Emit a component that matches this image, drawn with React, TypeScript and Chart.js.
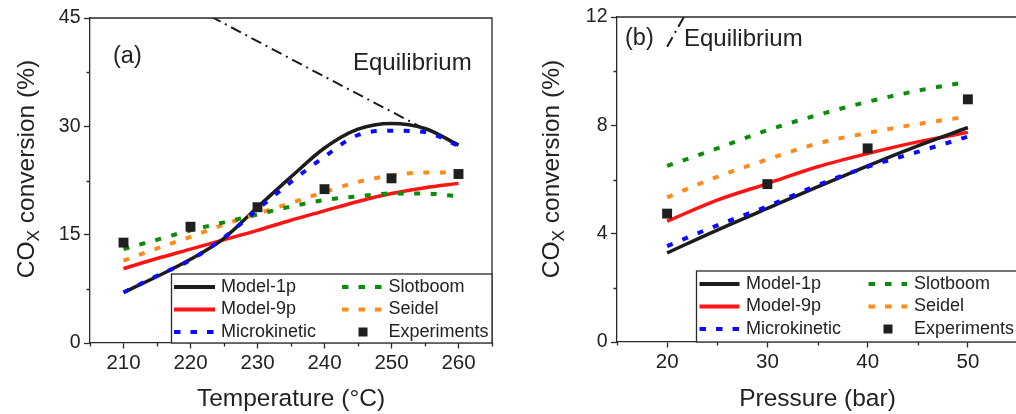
import React, { useEffect, useRef } from 'react';
import { Chart, registerables } from 'chart.js';

Chart.register(...registerables);

const FONT = '"Liberation Sans", Arial, Helvetica, sans-serif';
const INK = '#222222';
const AXIS = '#2a2a2a';

// ---- Panel (a): COx conversion against temperature ----
const tempGrid = [210, 215, 220, 225, 230, 235, 240, 245, 250, 255, 260];
const tempModel1p = [7.0, 9.2, 11.6, 14.5, 18.8, 23.0, 27.0, 29.6, 30.4, 29.7, 27.4];
const tempModel9p = [10.3, 11.7, 13.0, 14.3, 15.6, 17.0, 18.3, 19.6, 20.7, 21.5, 22.1];
const tempMicrokinetic = [7.0, 9.3, 11.5, 14.6, 18.5, 22.3, 25.8, 28.8, 29.4, 29.2, 27.3];
const tempSlotboom = [13.0, 14.3, 15.6, 16.7, 17.8, 18.9, 19.8, 20.3, 20.7, 20.7, 20.3];
const tempSeidel = [11.4, 13.1, 14.7, 16.4, 17.9, 19.4, 20.9, 22.3, 23.2, 23.6, 23.6];
const tempExpPoints = [210, 220, 230, 240, 250, 260];
const tempExperiments = [13.9, 16.1, 18.8, 21.3, 22.8, 23.4];
const tempEqPoints = [220, 237.5, 255];
const tempEquilibrium = [46.7, 38.1, 29.6];
const tempTicks = [210, 220, 230, 240, 250, 260];
const tempMinorTicks = [205, 215, 225, 235, 245, 255, 265];
const convTicksA = [0, 15, 30, 45];
const convMinorA = [7.5, 22.5, 37.5];

// ---- Panel (b): COx conversion against pressure ----
const pressGrid = [20, 25, 30, 35, 40, 45, 50];
const pressModel1p = [3.29, 4.13, 4.93, 5.73, 6.5, 7.24, 7.92];
const pressModel9p = [4.46, 5.24, 5.85, 6.47, 6.96, 7.39, 7.74];
const pressMicrokinetic = [3.54, 4.31, 5.01, 5.79, 6.47, 7.02, 7.58];
const pressSlotboom = [6.5, 7.15, 7.82, 8.38, 8.87, 9.28, 9.61];
const pressSeidel = [5.34, 6.1, 6.74, 7.33, 7.72, 8.05, 8.32];
const pressExpPoints = [20, 30, 40, 50];
const pressExperiments = [4.74, 5.83, 7.15, 8.96];
const pressEqPoints = [20, 25];
const pressEquilibrium = [10.9, 14.2];
const pressTicks = [20, 30, 40, 50];
const pressMinorTicks = [15, 25, 35, 45, 55];
const convTicksB = [0, 4, 8, 12];
const convMinorB = [2, 6, 10];

type Style = { label: string; color: string; dash: number[]; width: number };

const STYLE: Record<string, Style> = {
  m1: { label: 'Model-1p', color: '#1c1c1c', dash: [], width: 3.5 },
  m9: { label: 'Model-9p', color: '#ff1414', dash: [], width: 3.5 },
  mk: { label: 'Microkinetic', color: '#0a0aff', dash: [6, 10.5], width: 4 },
  sb: { label: 'Slotboom', color: '#0c8c0c', dash: [6, 10.5], width: 4 },
  sd: { label: 'Seidel', color: '#ff8a1c', dash: [6, 10.5], width: 4 },
};
const EXP_COLOR = '#1f1f1f';

const pts = (xs: number[], ys: number[]) => xs.map((x, i) => ({ x, y: ys[i] }));

type Panel = {
  left: number;
  width: number;
  pad: { left: number; right: number; top: number; bottom: number };
  yWidth: number;
  xHeight: number;
  xMin: number;
  xMax: number;
  yMax: number;
  xTicks: number[];
  xMinor: number[];
  yTicks: number[];
  yMinor: number[];
  xTitle: string;
  grid: number[];
  series: [keyof typeof STYLE, number[]][];
  expX: number[];
  expY: number[];
  eqX: number[];
  eqY: number[];
  yTitleX: number;
  yTitleY: number;
  tag: { text: string; x: number; y: number };
  eqLabel: { x: number; y: number };
  legend: {
    x: number;
    y: number;
    rows: number[];
    c1: [number, number, number];
    c2: [number, number, number];
    marker: number;
  };
};

const panelA: Panel = {
  left: 0,
  width: 510,
  pad: { left: 0, right: 18, top: 18, bottom: 0 },
  yWidth: 90,
  xHeight: 71,
  xMin: 205,
  xMax: 265,
  yMax: 45,
  xTicks: tempTicks,
  xMinor: tempMinorTicks,
  yTicks: convTicksA,
  yMinor: convMinorA,
  xTitle: 'Temperature (°C)',
  grid: tempGrid,
  series: [
    ['m1', tempModel1p],
    ['m9', tempModel9p],
    ['mk', tempMicrokinetic],
    ['sb', tempSlotboom],
    ['sd', tempSeidel],
  ],
  expX: tempExpPoints,
  expY: tempExperiments,
  eqX: tempEqPoints,
  eqY: tempEquilibrium,
  yTitleX: 25,
  yTitleY: 169,
  tag: { text: '(a)', x: 113, y: 57 },
  eqLabel: { x: 353, y: 63 },
  legend: {
    x: 171.5,
    y: 274,
    rows: [287, 309.5, 332],
    c1: [174, 215, 221],
    c2: [342, 382, 388.5],
    marker: 363,
  },
};

const panelB: Panel = {
  left: 510,
  width: 520,
  pad: { left: 0, right: 12, top: 17, bottom: 0 },
  yWidth: 107,
  xHeight: 72,
  xMin: 15,
  xMax: 55,
  yMax: 12,
  xTicks: pressTicks,
  xMinor: pressMinorTicks,
  yTicks: convTicksB,
  yMinor: convMinorB,
  xTitle: 'Pressure (bar)',
  grid: pressGrid,
  series: [
    ['m1', pressModel1p],
    ['m9', pressModel9p],
    ['mk', pressMicrokinetic],
    ['sb', pressSlotboom],
    ['sd', pressSeidel],
  ],
  expX: pressExpPoints,
  expY: pressExperiments,
  eqX: pressEqPoints,
  eqY: pressEquilibrium,
  yTitleX: 40,
  yTitleY: 169,
  tag: { text: '(b)', x: 115, y: 39 },
  eqLabel: { x: 174, y: 39 },
  legend: {
    x: 186.5,
    y: 271,
    rows: [284, 306.5, 329],
    c1: [189.5, 229.5, 236],
    c2: [358.5, 397, 404],
    marker: 378,
  },
};

// Frame, minor ticks, subscripted y title, panel tag, equilibrium label and legend box
const decorPlugin = {
  id: 'panelDecor',
  afterDraw(chart: any, _args: any, o: any) {
    const p: Panel = o.panel;
    const ctx: CanvasRenderingContext2D = chart.ctx;
    const a = chart.chartArea;
    const xs = chart.scales.x;
    const ys = chart.scales.y;
    ctx.save();

    ctx.strokeStyle = AXIS;
    ctx.lineWidth = 1.3;
    ctx.beginPath();
    ctx.moveTo(a.left, a.top);
    ctx.lineTo(a.right, a.top);
    ctx.lineTo(a.right, a.bottom);
    ctx.stroke();

    ctx.beginPath();
    for (const v of p.xMinor) {
      const px = Math.round(xs.getPixelForValue(v)) + 0.5;
      ctx.moveTo(px, a.bottom);
      ctx.lineTo(px, a.bottom + 3.5);
    }
    for (const v of p.yMinor) {
      const py = Math.round(ys.getPixelForValue(v)) + 0.5;
      ctx.moveTo(a.left, py);
      ctx.lineTo(a.left - 3.5, py);
    }
    ctx.stroke();

    // y-axis title with subscript X
    ctx.save();
    ctx.translate(p.yTitleX, p.yTitleY);
    ctx.rotate(-Math.PI / 2);
    ctx.fillStyle = INK;
    ctx.textBaseline = 'alphabetic';
    ctx.textAlign = 'left';
    const big = `24.5px ${FONT}`;
    const small = `17px ${FONT}`;
    ctx.font = big;
    const w1 = ctx.measureText('CO').width;
    const w3 = ctx.measureText(' conversion (%)').width;
    ctx.font = small;
    const w2 = ctx.measureText('X').width;
    let x = -(w1 + w2 + w3) / 2;
    const base = 8.8;
    ctx.font = big;
    ctx.fillText('CO', x, base);
    x += w1;
    ctx.font = small;
    ctx.fillText('X', x, base + 5);
    x += w2;
    ctx.font = big;
    ctx.fillText(' conversion (%)', x, base);
    ctx.restore();

    ctx.fillStyle = INK;
    ctx.textBaseline = 'middle';
    ctx.textAlign = 'left';
    ctx.font = `23.5px ${FONT}`;
    ctx.fillText(p.tag.text, p.tag.x, p.tag.y);
    ctx.font = `24px ${FONT}`;
    ctx.fillText('Equilibrium', p.eqLabel.x, p.eqLabel.y);

    // legend
    const L = p.legend;
    ctx.fillStyle = '#ffffff';
    ctx.fillRect(L.x, L.y, a.right - L.x, a.bottom - L.y);
    ctx.strokeStyle = AXIS;
    ctx.lineWidth = 1.3;
    ctx.strokeRect(L.x, L.y, a.right - L.x, a.bottom - L.y);

    const entry = (s: Style, col: [number, number, number], y: number) => {
      ctx.strokeStyle = s.color;
      ctx.lineWidth = 4;
      ctx.setLineDash(s.dash.length ? [6.5, 10] : []);
      ctx.beginPath();
      ctx.moveTo(col[0], y);
      ctx.lineTo(col[1], y);
      ctx.stroke();
      ctx.setLineDash([]);
      ctx.fillStyle = INK;
      ctx.font = `18px ${FONT}`;
      ctx.fillText(s.label, col[2], y);
    };
    entry(STYLE.m1, L.c1, L.rows[0]);
    entry(STYLE.m9, L.c1, L.rows[1]);
    entry(STYLE.mk, L.c1, L.rows[2]);
    entry(STYLE.sb, L.c2, L.rows[0]);
    entry(STYLE.sd, L.c2, L.rows[1]);
    ctx.fillStyle = EXP_COLOR;
    ctx.fillRect(L.marker - 4.5, L.rows[2] - 4.5, 9, 9);
    ctx.fillStyle = INK;
    ctx.font = `18px ${FONT}`;
    ctx.fillText('Experiments', L.c2[2], L.rows[2]);

    ctx.restore();
  },
};

function buildConfig(p: Panel): any {
  const lineSets = p.series.map(([key, ys], i) => {
    const s = STYLE[key];
    return {
      label: s.label,
      data: pts(p.grid, ys),
      borderColor: s.color,
      borderWidth: s.width,
      borderDash: s.dash,
      borderCapStyle: 'butt',
      pointRadius: 0,
      fill: false,
      cubicInterpolationMode: 'monotone',
      order: s.dash.length ? 2 + i : 10 + i,
    };
  });
  return {
    type: 'line',
    data: {
      datasets: [
        {
          label: 'Equilibrium',
          data: pts(p.eqX, p.eqY),
          borderColor: '#1a1a1a',
          borderWidth: 2,
          borderDash: [11, 5, 2, 5],
          pointRadius: 0,
          fill: false,
          clip: 0,
          order: 20,
        },
        ...lineSets,
        {
          label: 'Experiments',
          data: pts(p.expX, p.expY),
          showLine: false,
          pointStyle: 'rect',
          pointRadius: 7,
          pointBackgroundColor: EXP_COLOR,
          pointBorderWidth: 0,
          borderWidth: 0,
          order: 0,
        },
      ],
    },
    options: {
      animation: false,
      responsive: false,
      devicePixelRatio: 1,
      events: [],
      layout: { padding: p.pad },
      plugins: {
        legend: { display: false },
        tooltip: { enabled: false },
        panelDecor: { panel: p },
      },
      scales: {
        x: {
          type: 'linear',
          min: p.xMin,
          max: p.xMax,
          afterBuildTicks: (s: any) => {
            s.ticks = p.xTicks.map((v) => ({ value: v }));
          },
          afterFit: (s: any) => {
            s.height = p.xHeight;
          },
          grid: {
            display: true,
            drawOnChartArea: false,
            drawTicks: true,
            tickLength: 5.5,
            tickWidth: 1.3,
            tickColor: AXIS,
          },
          border: { display: true, color: AXIS, width: 1.3 },
          ticks: {
            color: INK,
            font: { family: FONT, size: 20.5 },
            padding: 2.5,
            maxRotation: 0,
            autoSkip: false,
          },
          title: {
            display: true,
            text: p.xTitle,
            color: INK,
            font: { family: FONT, size: 24.5 },
            padding: { top: 0, bottom: 0 },
          },
        },
        y: {
          type: 'linear',
          min: 0,
          max: p.yMax,
          afterBuildTicks: (s: any) => {
            s.ticks = p.yTicks.map((v) => ({ value: v }));
          },
          afterFit: (s: any) => {
            s.width = p.yWidth;
          },
          grid: {
            display: true,
            drawOnChartArea: false,
            drawTicks: true,
            tickLength: 6,
            tickWidth: 1.3,
            tickColor: AXIS,
          },
          border: { display: true, color: AXIS, width: 1.3 },
          ticks: {
            color: INK,
            font: { family: FONT, size: 19.5 },
            padding: 3.5,
          },
          title: { display: false },
        },
      },
    },
    plugins: [decorPlugin],
  };
}

function PanelChart({ panel }: { panel: Panel }) {
  const ref = useRef<HTMLCanvasElement>(null);
  useEffect(() => {
    const chart = new Chart(ref.current as HTMLCanvasElement, buildConfig(panel));
    return () => chart.destroy();
  }, [panel]);
  return (
    <canvas
      ref={ref}
      width={panel.width}
      height={414}
      style={{
        position: 'absolute',
        left: panel.left,
        top: 0,
        width: panel.width,
        height: 414,
        display: 'block',
      }}
    />
  );
}

export default function App() {
  return (
    <div
      style={{
        position: 'fixed',
        left: 0,
        top: 0,
        width: 1016,
        height: 414,
        overflow: 'hidden',
        background: '#ffffff',
      }}
    >
      <PanelChart panel={panelA} />
      <PanelChart panel={panelB} />
    </div>
  );
}
